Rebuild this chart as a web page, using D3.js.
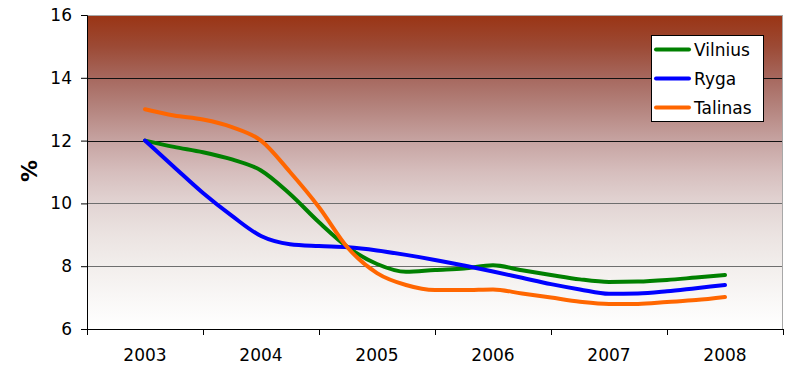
<!DOCTYPE html>
<html>
<head>
<meta charset="utf-8">
<script src="https://cdn.jsdelivr.net/npm/d3@7"></script>
<style>
  html, body { margin: 0; padding: 0; background: #fff; }
  svg { display: block; font-family: "DejaVu Sans", Verdana, sans-serif; }
</style>
</head>
<body>
<svg id="chart" width="786" height="366"></svg>
<script>
// Yearly categories on the x axis
const years = ["2003", "2004", "2005", "2006", "2007", "2008"];
// Quarterly sample times
const times = [2003, 2003.25, 2003.5, 2003.75, 2004, 2004.25, 2004.5, 2004.75,
               2005, 2005.25, 2005.5, 2005.75, 2006, 2006.25, 2006.5, 2006.75,
               2007, 2007.25, 2007.5, 2007.75, 2008];
// Rates, %
const vilnius = [12.0, 11.8, 11.63, 11.4, 11.05, 10.3, 9.4, 8.6, 8.07, 7.82, 7.88,
                 7.93, 8.03, 7.87, 7.72, 7.58, 7.5, 7.51, 7.56, 7.64, 7.72];
const ryga    = [12.0, 11.16, 10.33, 9.6, 8.96, 8.7, 8.64, 8.6, 8.5, 8.36, 8.2,
                 8.02, 7.83, 7.63, 7.43, 7.26, 7.12, 7.13, 7.2, 7.3, 7.4];
const talinas = [13.0, 12.8, 12.67, 12.43, 12.0, 11.0, 9.88, 8.58, 7.78, 7.4, 7.24,
                 7.24, 7.26, 7.13, 7.0, 6.87, 6.8, 6.8, 6.86, 6.92, 7.02];
const seriesNames = ["Vilnius", "Ryga", "Talinas"];
const yTicks = [6, 8, 10, 12, 14, 16];

const colors = { Vilnius: "#008000", Ryga: "#0000ff", Talinas: "#ff6600" };
const seriesValues = { Vilnius: vilnius, Ryga: ryga, Talinas: talinas };

const svg = d3.select("#chart");
const plotLeft = 87, plotRight = 783, plotTop = 15, plotBottom = 329;

const xBand = d3.scaleBand().domain(years).range([plotLeft, plotRight]).padding(0);
const bw = xBand.bandwidth();
const xt = d3.scaleLinear()
  .domain([+years[0], +years[years.length - 1]])
  .range([xBand(years[0]) + bw / 2, xBand(years[years.length - 1]) + bw / 2]);
const y = d3.scaleLinear().domain([6, 16]).range([plotBottom, plotTop]);

// Plot area gradient: deep brick red at top fading to white
const defs = svg.append("defs");
const grad = defs.append("linearGradient")
  .attr("id", "bg").attr("x1", 0).attr("y1", 0).attr("x2", 0).attr("y2", 1);
[[0, "#9a3414"], [0.1, "#9c4a35"], [0.2, "#a6685e"], [0.3, "#b5857f"],
 [0.4, "#c6a3a1"], [0.5, "#d6bebd"], [0.6, "#e2d4d3"], [0.7, "#ebe3e1"],
 [0.8, "#f2eeec"], [0.9, "#f9f7f6"], [1, "#ffffff"]]
  .forEach(([o, c]) => grad.append("stop").attr("offset", o).attr("stop-color", c));

svg.append("rect")
  .attr("x", plotLeft).attr("y", plotTop)
  .attr("width", plotRight - plotLeft).attr("height", plotBottom - plotTop)
  .attr("fill", "url(#bg)");

// Horizontal gridlines
svg.append("g").selectAll("line")
  .data(yTicks.filter(v => v > 6 && v < 16))
  .join("line")
  .attr("x1", plotLeft).attr("x2", plotRight)
  .attr("y1", d => Math.round(y(d)) + 0.5).attr("y2", d => Math.round(y(d)) + 0.5)
  .attr("stroke", d => d >= 12 ? "#111" : "#6e6e6e")
  .attr("stroke-width", 1);

// Plot frame top and right edges
svg.append("line")
  .attr("x1", plotLeft).attr("x2", plotRight)
  .attr("y1", Math.round(y(16)) + 0.5).attr("y2", Math.round(y(16)) + 0.5)
  .attr("stroke", "#a8a8a8");
svg.append("line")
  .attr("x1", plotRight - 0.5).attr("x2", plotRight - 0.5)
  .attr("y1", plotTop).attr("y2", plotBottom)
  .attr("stroke", "#a8a8a8");

// Y axis
const yAxis = d3.axisLeft(y).tickValues(yTicks).tickSize(6).tickPadding(9);
const gy = svg.append("g").attr("transform", `translate(${plotLeft},0)`).call(yAxis);
gy.select(".domain").attr("stroke", "#000");
gy.selectAll(".tick line").attr("stroke", "#000");
gy.selectAll("text").attr("font-size", 17).attr("fill", "#000")
  .attr("font-family", "DejaVu Sans, Verdana, sans-serif");

// X axis with ticks at category boundaries
const xAxisG = svg.append("g");
xAxisG.append("line")
  .attr("x1", plotLeft).attr("x2", plotRight)
  .attr("y1", plotBottom + 0.5).attr("y2", plotBottom + 0.5)
  .attr("stroke", "#000");
const bounds = years.map(d => xBand(d)).concat([xBand(years[years.length - 1]) + bw]);
xAxisG.selectAll("line.tk").data(bounds).join("line").attr("class", "tk")
  .attr("x1", d => Math.round(d) + 0.5).attr("x2", d => Math.round(d) + 0.5)
  .attr("y1", plotBottom).attr("y2", plotBottom + 6)
  .attr("stroke", "#000");
xAxisG.selectAll("text").data(years).join("text")
  .attr("x", d => xBand(d) + bw / 2)
  .attr("y", 361)
  .attr("text-anchor", "middle")
  .attr("font-size", 17)
  .attr("fill", "#000")
  .text(d => d);

// Y axis title
svg.append("text")
  .attr("transform", `translate(37,171) rotate(-90)`)
  .attr("text-anchor", "middle")
  .attr("font-size", 22)
  .attr("font-weight", "bold")
  .attr("fill", "#000")
  .text("%");

// Series lines
const line = d3.line()
  .x((d, i) => xt(times[i]))
  .y(d => y(d))
  .curve(d3.curveMonotoneX);

svg.append("g").selectAll("path")
  .data(seriesNames)
  .join("path")
  .attr("d", n => line(seriesValues[n]))
  .attr("fill", "none")
  .attr("stroke", n => colors[n])
  .attr("stroke-width", 4)
  .attr("stroke-linejoin", "round")
  .attr("stroke-linecap", "round");

// Legend
const lg = svg.append("g");
lg.append("rect")
  .attr("x", 651.5).attr("y", 35.5).attr("width", 112).attr("height", 86)
  .attr("fill", "#fff").attr("stroke", "#000");
const rows = lg.selectAll("g.row").data(seriesNames).join("g").attr("class", "row")
  .attr("transform", (d, i) => `translate(0,${49.5 + i * 29})`);
rows.append("line")
  .attr("x1", 656).attr("x2", 689).attr("y1", 0).attr("y2", 0)
  .attr("stroke", d => colors[d]).attr("stroke-width", 4)
  .attr("stroke-linecap", "round");
rows.append("text")
  .attr("x", 694).attr("y", 6)
  .attr("font-size", 17).attr("fill", "#000")
  .text(d => d);
</script>
</body>
</html>
